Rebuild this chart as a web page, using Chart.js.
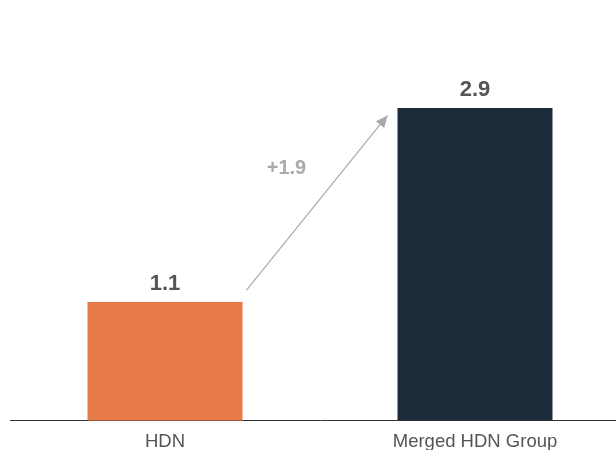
<!DOCTYPE html>
<html lang="en">
<head>
    <meta charset="UTF-8">
    <title>HDN vs Merged HDN Group</title>
    <script src="https://cdn.jsdelivr.net/npm/chart.js"></script>
    <style>
        html, body {
            margin: 0;
            padding: 0;
            overflow: hidden;
            background: #fff;
        }
        #wrap {
            position: relative;
            width: 630px;   /* plot runs past the right edge and the labels sit low, as in the original */
            height: 465px;
        }
    </style>
</head>
<body>
    <div id="wrap"><canvas id="barChart"></canvas></div>
    <script>
        const categories = ['HDN', 'Merged HDN Group'];
        const values = [1.1, 2.9];
        const barColors = ['#E87948', '#1C2B39'];
        const changeLabel = '+1.9';

        // value labels above bars + the growth arrow
        const annotate = {
            id: 'annotate',
            afterDatasetsDraw(chart) {
                const ctx = chart.ctx;
                const meta = chart.getDatasetMeta(0);
                const y = chart.scales.y;

                ctx.save();
                ctx.fillStyle = '#555';
                ctx.font = 'bold 22px "Liberation Sans", Arial, sans-serif';
                ctx.textAlign = 'center';
                ctx.textBaseline = 'alphabetic';
                meta.data.forEach((bar, i) => {
                    ctx.fillText(values[i].toFixed(1), bar.x, bar.y - 12);
                });

                // arrow from first bar to second
                const b0 = meta.data[0], b1 = meta.data[1];
                const x0 = b0.x + b0.width / 2 + 4;
                const y0 = y.getPixelForValue(1.21);
                const x1 = b1.x - b1.width / 2 - 10;
                const y1 = y.getPixelForValue(2.83);
                ctx.strokeStyle = '#a9a9a9';
                ctx.fillStyle = '#a9a9a9';
                ctx.lineWidth = 1.2;
                ctx.beginPath();
                ctx.moveTo(x0, y0);
                ctx.lineTo(x1, y1);
                ctx.stroke();
                const ang = Math.atan2(y1 - y0, x1 - x0);
                const len = 13, half = 0.42;
                ctx.beginPath();
                ctx.moveTo(x1, y1);
                ctx.lineTo(x1 - len * Math.cos(ang - half), y1 - len * Math.sin(ang - half));
                ctx.lineTo(x1 - len * Math.cos(ang + half), y1 - len * Math.sin(ang + half));
                ctx.closePath();
                ctx.fill();

                ctx.fillStyle = '#aaa';
                ctx.font = 'bold 20px "Liberation Sans", Arial, sans-serif';
                ctx.textBaseline = 'middle';
                ctx.fillText(changeLabel, x0 + 40, y.getPixelForValue(2.34));
                ctx.restore();
            }
        };

        document.addEventListener('DOMContentLoaded', function() {
            const ctx = document.getElementById('barChart').getContext('2d');
            new Chart(ctx, {
                type: 'bar',
                data: {
                    labels: categories,
                    datasets: [{
                        data: values,
                        backgroundColor: barColors,
                        borderWidth: 0,
                        barPercentage: 0.5,
                        categoryPercentage: 1.0
                    }]
                },
                options: {
                    responsive: true,
                    maintainAspectRatio: false,
                    animation: false,
                    layout: { padding: { left: 10, right: 0, top: 0, bottom: 2 } },
                    plugins: {
                        legend: { display: false },
                        tooltip: { enabled: false }
                    },
                    scales: {
                        x: {
                            grid: { display: false, drawTicks: false },
                            border: { display: true, color: '#333', width: 1 },
                            ticks: {
                                color: '#555',
                                padding: 10,
                                font: { family: '"Liberation Sans", Arial, sans-serif', size: 18.5 }
                            }
                        },
                        y: {
                            display: false,
                            min: 0,
                            max: 3.9
                        }
                    }
                },
                plugins: [annotate]
            });
        });
    </script>
</body>
</html>
